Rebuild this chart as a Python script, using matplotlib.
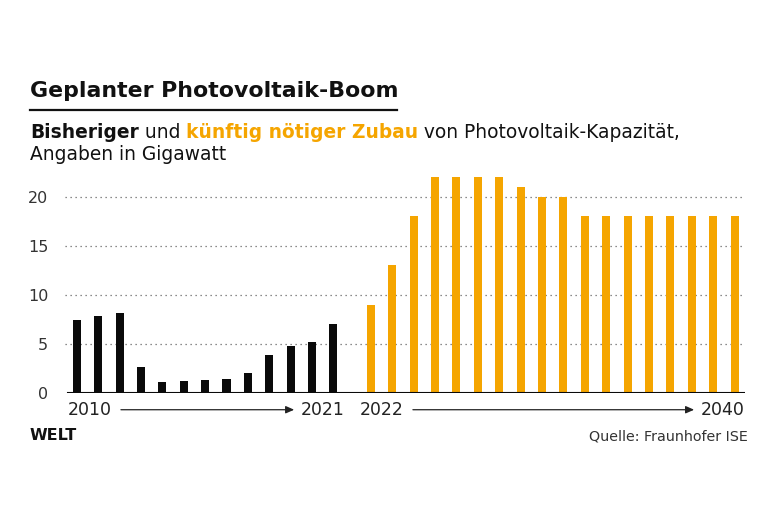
import matplotlib
matplotlib.use("Agg")
import matplotlib.pyplot as plt

plt.rcParams['font.family'] = ['DejaVu Sans']

# ---- data ----
past_values = [7.5, 7.9, 8.2, 2.7, 1.1, 1.3, 1.4, 1.5, 2.1, 3.9, 4.8, 5.2, 7.0]
future_values = [9, 13, 18, 22, 22, 22, 22, 21, 20, 20, 18, 18, 18, 18, 18, 18, 18, 18]
past_labels = ["2010", "2021"]
future_labels = ["2022", "2040"]
yticks = [0, 5, 10, 15, 20]

title = "Geplanter Photovoltaik-Boom"
sub_parts = [("Bisheriger", "bold", "#111111"),
             (" und ", "normal", "#111111"),
             ("künftig nötiger Zubau", "bold", "#F5A500"),
             (" von Photovoltaik-Kapazität,", "normal", "#111111")]
sub_line2 = "Angaben in Gigawatt"
source = "Quelle: Fraunhofer ISE"
logo = "WELT"

BLACK = "#0a0a0a"
ORANGE = "#F5A500"

W, H = 780, 520
fig = plt.figure(figsize=(W / 100, H / 100), dpi=100)
fig.patch.set_facecolor("white")

def fx(px):
    return px / W

def fy(py):
    return 1 - py / H

def width_of(t):
    fig.canvas.draw()
    return t.get_window_extent(fig.canvas.get_renderer()).width

def fit(t, target):
    w = width_of(t)
    t.set_fontsize(t.get_fontsize() * target / w)

ax = fig.add_axes([fx(65), fy(393.3), fx(745) - fx(65), fy(172) - fy(393.3)])

gap = 13.74
bw = 0.374
xp = list(range(len(past_values)))
xf = [gap + i for i in range(len(future_values))]
ax.bar(xp, past_values, width=bw, color=BLACK, zorder=3)
ax.bar(xf, future_values, width=bw, color=ORANGE, zorder=3)

ax.set_xlim(-0.547, 31.23)
ax.set_ylim(0, 22.5)
for v in yticks[1:]:
    ax.axhline(v, color="#666666", lw=0.9, ls=(0, (1, 3)), zorder=1)
ax.axhline(0, color=BLACK, lw=1.5, zorder=4, xmin=0.004)

for s in ax.spines.values():
    s.set_visible(False)
ax.set_xticks([])
ax.set_yticks(yticks)
ax.set_yticklabels([str(v) for v in yticks])
ax.tick_params(axis="y", length=0, pad=12, labelsize=11.5, labelcolor="#333333")

# year labels with arrows
ytxt = -1.72
t1 = ax.text(-0.41, ytxt, past_labels[0], ha="left", va="center", fontsize=12, color="#222222")
t2 = ax.text(12.54, ytxt, past_labels[1], ha="right", va="center", fontsize=12, color="#222222")
t3 = ax.text(13.24, ytxt, future_labels[0], ha="left", va="center", fontsize=12, color="#222222")
t4 = ax.text(31.23, ytxt, future_labels[1], ha="right", va="center", fontsize=12, color="#222222")
for t in (t1, t2, t3, t4):
    fit(t, 44)

fig.canvas.draw()
r = fig.canvas.get_renderer()
inv = ax.transData.inverted()

def arrow_between(ta, tb):
    ea = ta.get_window_extent(r)
    eb = tb.get_window_extent(r)
    x0 = inv.transform((ea.x1 + 9, 0))[0]
    x1 = inv.transform((eb.x0 - 7, 0))[0]
    ax.annotate("", xy=(x1, ytxt + 0.05), xytext=(x0, ytxt + 0.05),
                xycoords="data", textcoords="data", annotation_clip=False,
                arrowprops=dict(arrowstyle="-|>,head_length=0.5,head_width=0.22",
                                color="#222222", lw=0.9, shrinkA=0, shrinkB=0))

arrow_between(t1, t2)
arrow_between(t3, t4)

# title
tt = fig.text(fx(30), fy(96.7), title, ha="left", va="baseline", fontsize=16,
              fontweight="bold", color="#111111")
fit(tt, 367)
fig.add_artist(plt.Line2D([fx(30), fx(397)], [fy(110), fy(110)], color="#111111", lw=1.6))

# subtitle with mixed styles: size chosen from the regular part's width
probe = fig.text(0, 0, sub_parts[3][0], fontsize=13)
sub_fs = 13 * 262 / width_of(probe)
probe.remove()

xcur = 30
for txt, wt, col in sub_parts:
    t = fig.text(fx(xcur), fy(138.3), txt, ha="left", va="baseline", fontsize=sub_fs,
                 fontweight=wt, color=col)
    fig.canvas.draw()
    e = t.get_window_extent(fig.canvas.get_renderer())
    xcur = e.x1
fig.text(fx(30), fy(160.5), sub_line2, ha="left", va="baseline", fontsize=sub_fs,
         color="#111111")

# footer
tl = fig.text(fx(30), fy(439.5), logo, ha="left", va="baseline", fontsize=11,
              fontweight="heavy", color="#111111")
fit(tl, 47)
ts = fig.text(fx(748), fy(440), source, ha="right", va="baseline", fontsize=10,
              color="#333333")
fit(ts, 159)

fig.savefig("out.png", dpi=100, facecolor="white")
